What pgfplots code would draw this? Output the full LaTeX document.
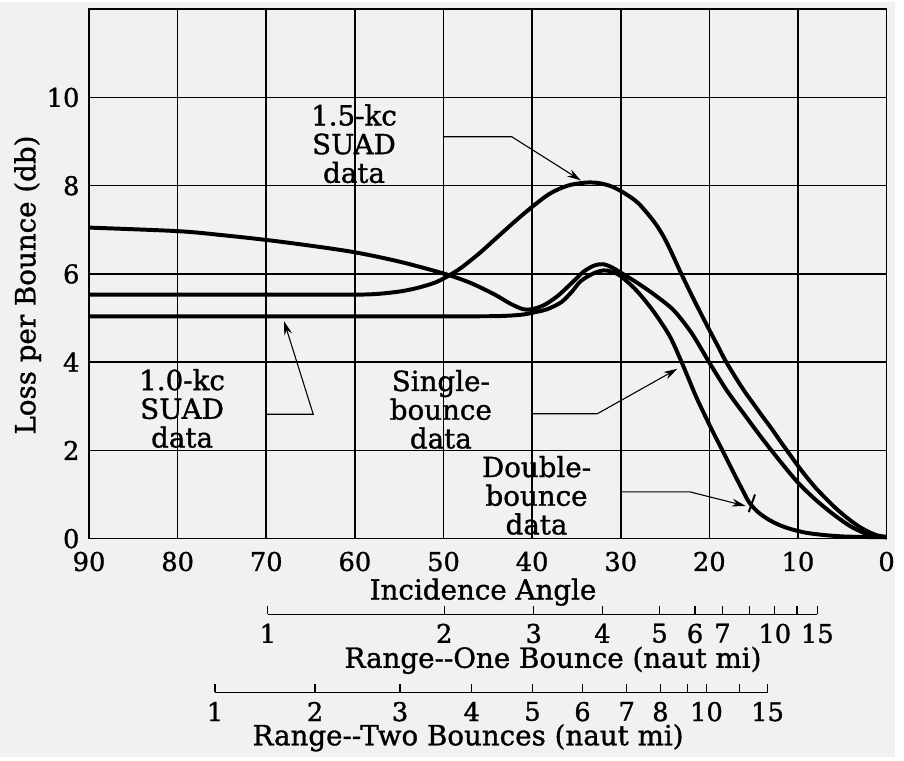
\documentclass[border=0pt]{standalone}
\usepackage{pgfplots}
\pgfplotsset{compat=1.18}
\usepackage{fontspec}
\setmainfont{DejaVu Serif}[UprightFeatures={FakeBold=1.2}]
\usetikzlibrary{arrows.meta}
\definecolor{paper}{RGB}{241,241,239}
\pgfplotsset{
  tlfont/.style={tick label style={font=\fontsize{13}{13}\selectfont}},
  curve/.style={black, line width=2pt, smooth, no marks},
  pointer/.style={black, line width=0.55pt, no marks, -{Stealth[length=7pt,width=4pt]}},
}
\tikzset{lbl/.style={align=center, font=\fontsize{14}{14.5}\selectfont}}
\begin{document}
\fontsize{14}{15}\selectfont
\begin{tikzpicture}
\fill[paper] (-45pt,-110.5pt) rectangle (407pt,271pt);
\begin{axis}[
  name=main, at={(0,0)}, anchor=south west,
  scale only axis, width=403pt, height=267.5pt,
  xmin=0, xmax=90, ymin=0, ymax=12, x dir=reverse,
  xtick={0,10,...,90}, ytick={0,2,4,6,8,10,12},
  yticklabels={0,2,4,6,8,10,},
  grid=major, major grid style={black, line width=0.8pt},
  axis line style={black, line width=0.8pt},
  major tick length=0pt,
  tlfont,
  xticklabel style={yshift=-1.8pt},
  /pgf/number format/assume math mode=true,
  xlabel={Incidence Angle}, ylabel={Loss per Bounce (db)},
  label style={font=\fontsize{14}{15}\selectfont},
  xlabel style={at={(axis description cs:0.494,-0.101)}, anchor=center},
  ylabel style={at={(axis description cs:-0.077,0.479)}, anchor=center},
  clip=false,
]
% 1.5-kc SUAD data
\addplot[curve] coordinates {
(90,5.53) (75,5.53) (62,5.53) (58,5.54) (55,5.6) (53,5.68) (51,5.8) (49.5,5.95)
(48,6.14) (46,6.46) (44,6.82) (42,7.18) (40,7.52) (38,7.82) (36,8.0) (34,8.07)
(32.5,8.06) (31,7.98) (29.5,7.82) (28,7.6) (26.3,7.2) (25.2,6.86) (24.3,6.5)
(23.3,6.06) (22,5.52) (21,5.12) (20,4.73) (19,4.35) (18.2,4.04) (17,3.64) (16,3.33)
(15,3.05) (14,2.77) (13,2.5) (12,2.21) (11,1.93) (10,1.65) (9,1.39) (8,1.15)
(7,0.94) (6,0.74) (5,0.56) (4,0.4) (3,0.26) (2,0.15) (1,0.07) (0,0.04)};
% declining curve joining the middle branch
\addplot[curve] coordinates {
(90,7.05) (80,6.97) (75,6.88) (70,6.77) (65,6.64) (60,6.49) (55,6.28) (50,6.01)
(47,5.8) (44.2,5.53) (42.5,5.33) (41,5.2) (39.8,5.21) (38.5,5.31) (37,5.52)
(35.5,5.8) (34.2,6.05) (33,6.19) (32,6.22) (31,6.15) (30,6.03) (28,5.78)
(26,5.5) (24,5.17) (22,4.66) (20,3.99) (18,3.35) (16,2.8) (14,2.26) (12,1.75)
(10,1.27) (8,0.88) (6,0.55) (4,0.27) (2,0.09) (0,0.03)};
% 1.0-kc flat curve joining the steep branch
\addplot[curve] coordinates {
(90,5.04) (60,5.04) (46,5.04) (43,5.05) (41,5.08) (39.5,5.14) (38.3,5.2) (36.7,5.36)
(35.5,5.6) (34.5,5.84) (33,6.02) (31.9,6.08) (31,6.05) (30,5.95) (28.2,5.62)
(26.3,5.15) (24.5,4.6) (23.3,4.08) (22.5,3.7) (21.5,3.22) (20.4,2.75) (19.5,2.38)
(18.6,2.03) (17.8,1.71) (17,1.39) (16.2,1.08) (15.5,0.82) (14.5,0.6) (13.3,0.43)
(12,0.3) (10.7,0.21) (9,0.13) (7,0.08) (5,0.05) (3.2,0.04) (0,0.03)};
% pointers
\addplot[pointer] coordinates {(50.0,9.11) (42.3,9.11) (34.5,8.12)};
\addplot[pointer] coordinates {(69.9,2.82) (64.7,2.82) (68.0,4.93)};
\addplot[pointer] coordinates {(40.0,2.83) (32.65,2.83) (23.6,3.85)};
\addplot[pointer] coordinates {(30.0,1.06) (22.2,1.06) (15.9,0.74)};
\addplot[black, line width=1pt, no marks] coordinates {(15.55,0.6) (14.85,1.0)};
% labels
\node[lbl] at (axis cs:60.1,8.95) {1.5-kc\\SUAD\\data};
\node[lbl] at (axis cs:79.5,2.95) {1.0-kc\\SUAD\\data};
\node[lbl] at (axis cs:50.3,2.93) {Single-\\bounce\\data};
\node[lbl] at (axis cs:39.5,0.98) {Double-\\bounce\\data};
\end{axis}
% Range -- one bounce scale
\begin{axis}[
  at={(90.35pt,-38.15pt)}, anchor=south west,
  scale only axis, width=277.65pt, height=5pt,
  xmin=7.8, xmax=69.8, x dir=reverse, ymin=0, ymax=1,
  axis x line=bottom, hide y axis,
  axis line style={-, black, line width=0.6pt},
  x axis line style={-},
  xtick={7.8,10.1,12.6,15.45,18.5,21.6,25.6,32.05,39.8,49.9,69.8},
  xticklabels={15,,10,,7,6,5,4,3,2,1},
  xtick align=inside, major tick length=4pt,
  tick style={black, line width=0.6pt},
  tlfont,
  xlabel={Range-{}-One Bounce (naut mi)},
  label style={font=\fontsize{14}{15}\selectfont},
  xlabel style={at={(axis description cs:0.519,0)}, anchor=center, yshift=-23.35pt},
]
\end{axis}
% Range -- two bounces scale
\begin{axis}[
  at={(63.65pt,-77.65pt)}, anchor=south west,
  scale only axis, width=279.2pt, height=5pt,
  xmin=13.4, xmax=75.8, x dir=reverse, ymin=0, ymax=1,
  axis x line=bottom, hide y axis,
  axis line style={-, black, line width=0.6pt},
  x axis line style={-},
  xtick={13.4,16.6,20.3,22.45,25.5,29.3,34.3,39.95,46.8,54.9,64.5,75.8},
  xticklabels={15,,10,,8,7,6,5,4,3,2,1},
  xtick align=inside, major tick length=4pt,
  tick style={black, line width=0.6pt},
  tlfont,
  xlabel={Range-{}-Two Bounces (naut mi)},
  label style={font=\fontsize{14}{15}\selectfont},
  xlabel style={at={(axis description cs:0.458,0)}, anchor=center, yshift=-23pt},
]
\end{axis}
\end{tikzpicture}
\end{document}
